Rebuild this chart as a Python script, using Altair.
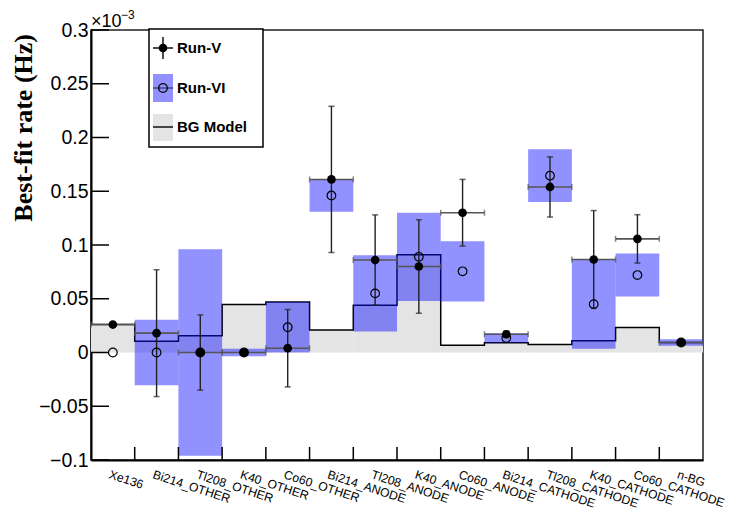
import altair as alt
import pandas as pd

categories = ["Xe136", "Bi214_OTHER", "Tl208_OTHER", "K40_OTHER", "Co60_OTHER",
              "Bi214_ANODE", "Tl208_ANODE", "K40_ANODE", "Co60_ANODE",
              "Bi214_CATHODE", "Tl208_CATHODE", "K40_CATHODE", "Co60_CATHODE", "n-BG"]
bg_model = [0.026, 0.0105, 0.0155, 0.0446, 0.047, 0.021, 0.044, 0.091,
            0.0068, 0.009, 0.0074, 0.011, 0.0233, 0.0093]
run5 = [0.026, 0.018, 0.0, 0.0, 0.004, 0.161, 0.086, 0.080,
        0.130, 0.017, 0.154, 0.0865, 0.1057, 0.0093]
run5_err = [0.0, 0.059, 0.035, 0.0, 0.036, 0.068, 0.042, 0.0435,
            0.031, 0.003, 0.028, 0.0455, 0.0225, 0.0]
run6 = [0.0, 0.0, 0.0, 0.0, 0.0235, 0.146, 0.055, 0.089,
        0.0755, 0.0135, 0.1645, 0.045, 0.072, 0.0093]
run6_err = [0.0, 0.0305, 0.096, 0.0035, 0.0235, 0.015, 0.0355, 0.041,
            0.028, 0.0045, 0.0245, 0.0415, 0.020, 0.003]
y_ticks = [-0.1, -0.05, 0, 0.05, 0.1, 0.15, 0.2, 0.25, 0.3]

n = len(categories)
df = pd.DataFrame({
    "cat": categories,
    "lo": [i for i in range(n)],
    "hi": [i + 1 for i in range(n)],
    "mid": [i + 0.5 for i in range(n)],
    "zero": [0.0] * n,
    "bg": bg_model,
    "r5": run5, "r5e": run5_err,
    "r6": run6, "r6e": run6_err,
})
df["r5lo"] = df["r5"] - df["r5e"]
df["r5hi"] = df["r5"] + df["r5e"]
df["r6lo"] = df["r6"] - df["r6e"]
df["r6hi"] = df["r6"] + df["r6e"]

step_df = pd.DataFrame({"x": list(range(n + 1)), "y": bg_model + [bg_model[-1]]})
edges_df = pd.DataFrame({"e": list(range(1, n))})
yt_df = pd.DataFrame({"v": y_ticks})

HATCH = "#0a0aff"
HATCH_OP = 0.45

xs = alt.Scale(domain=[0, n], nice=False, zero=False)
ys = alt.Scale(domain=[-0.1, 0.3], nice=False, zero=False)

label_arr = "[" + ",".join("'" + c + "'" for c in categories) + "]"
x_axis = alt.Axis(values=[i + 0.5 for i in range(n)], labelExpr=label_arr + "[floor(datum.value)]",
                  labelAngle=18, labelAlign="left", labelBaseline="top", labelPadding=8,
                  labelOffset=-2,
                  labelFont="Liberation Sans", labelFontSize=12.2, labelColor="black",
                  ticks=False, grid=False, domainColor="black", domainWidth=2, title=None,
                  labelOverlap=False, labelBound=False)
y_axis = alt.Axis(values=y_ticks, format="~g", labelFont="Liberation Sans", labelFontSize=19.5,
                  labelColor="black", labelPadding=3, ticks=False, grid=False,
                  domainColor="black", domainWidth=2, title=None, labelOverlap=False, labelBound=False)

base = alt.Chart(df)

grey = base.mark_rect(fill="#e4e4e4", stroke=None).encode(
    x=alt.X("lo:Q", scale=xs, axis=x_axis), x2="hi:Q",
    y=alt.Y("zero:Q", scale=ys, axis=y_axis), y2="bg:Q")

bgline = alt.Chart(step_df).mark_line(interpolate="step-after", color="black", strokeWidth=1.5).encode(
    x=alt.X("x:Q", scale=xs), y=alt.Y("y:Q", scale=ys))

boxes = base.transform_filter("datum.r6e > 0").mark_rect(fill=HATCH, fillOpacity=HATCH_OP).encode(
    x=alt.X("lo:Q", scale=xs), x2="hi:Q", y=alt.Y("r6lo:Q", scale=ys), y2="r6hi:Q")

xbar = base.mark_rule(color="#555555", strokeWidth=1.6).encode(
    x=alt.X("lo:Q", scale=xs), x2="hi:Q", y=alt.Y("r5:Q", scale=ys))
xcap_l = base.mark_tick(orient="vertical", color="#555555", size=6, thickness=1.5).encode(
    x=alt.X("lo:Q", scale=xs), y=alt.Y("r5:Q", scale=ys))
xcap_r = base.mark_tick(orient="vertical", color="#555555", size=6, thickness=1.5).encode(
    x=alt.X("hi:Q", scale=xs), y=alt.Y("r5:Q", scale=ys))

yerr = base.transform_filter("datum.r5e > 0").mark_rule(color="#222222", strokeWidth=1.4).encode(
    x=alt.X("mid:Q", scale=xs), y=alt.Y("r5lo:Q", scale=ys), y2="r5hi:Q")
ycap_lo = base.transform_filter("datum.r5e > 0").mark_tick(orient="horizontal", color="#222222", size=6, thickness=1.5).encode(
    x=alt.X("mid:Q", scale=xs), y=alt.Y("r5lo:Q", scale=ys))
ycap_hi = base.transform_filter("datum.r5e > 0").mark_tick(orient="horizontal", color="#222222", size=6, thickness=1.5).encode(
    x=alt.X("mid:Q", scale=xs), y=alt.Y("r5hi:Q", scale=ys))

open_pts = base.mark_point(shape="circle", filled=False, color="black", size=75, strokeWidth=1.2, opacity=1).encode(
    x=alt.X("mid:Q", scale=xs), y=alt.Y("r6:Q", scale=ys))
full_pts = base.mark_point(shape="circle", filled=True, color="black", size=75, opacity=1).encode(
    x=alt.X("mid:Q", scale=xs), y=alt.Y("r5:Q", scale=ys))

xticks = alt.Chart(edges_df).mark_rule(color="black", strokeWidth=1.5).encode(
    x=alt.X("e:Q", scale=xs), y=alt.value(430), y2=alt.value(417))
yticks = alt.Chart(yt_df).mark_rule(color="black", strokeWidth=1.5).encode(
    y=alt.Y("v:Q", scale=ys), x=alt.value(0), x2=alt.value(18))

ytitle = alt.Chart(pd.DataFrame({"t": ["Best-fit rate (Hz)"]})).mark_text(
    angle=270, align="right", baseline="middle", font="Liberation Serif", fontWeight="bold",
    fontSize=26, color="black").encode(x=alt.value(-67), y=alt.value(4), text="t:N")
exp1 = alt.Chart(pd.DataFrame({"t": ["×10"]})).mark_text(
    align="left", baseline="alphabetic", font="Liberation Sans", fontSize=18, color="black").encode(
    x=alt.value(0), y=alt.value(-3), text="t:N")
exp2 = alt.Chart(pd.DataFrame({"t": ["−3"]})).mark_text(
    align="left", baseline="alphabetic", font="Liberation Sans", fontSize=12, color="black").encode(
    x=alt.value(30), y=alt.value(-11), text="t:N")

# legend
one = pd.DataFrame({"a": [0]})
leg_box = alt.Chart(one).mark_rect(fill="white", stroke="black", strokeWidth=1.5).encode(
    x=alt.value(58), x2=alt.value(172), y=alt.value(-1), y2=alt.value(117))
leg_v_h = alt.Chart(one).mark_rule(color="black", strokeWidth=1.4).encode(
    x=alt.value(62), x2=alt.value(82), y=alt.value(18))
leg_v_v = alt.Chart(one).mark_rule(color="black", strokeWidth=1.4).encode(
    x=alt.value(72), y=alt.value(7), y2=alt.value(29))
leg_v_pt = alt.Chart(one).mark_point(shape="circle", filled=True, color="black", size=75, opacity=1).encode(
    x=alt.value(72), y=alt.value(18))
leg_6_box = alt.Chart(one).mark_rect(fill=HATCH, fillOpacity=HATCH_OP).encode(
    x=alt.value(62), x2=alt.value(82), y=alt.value(44), y2=alt.value(72))
leg_6_h = alt.Chart(one).mark_rule(color="#333366", strokeWidth=1.2).encode(
    x=alt.value(62), x2=alt.value(82), y=alt.value(58))
leg_6_pt = alt.Chart(one).mark_point(shape="circle", filled=False, color="black", size=75, strokeWidth=1.2, opacity=1).encode(
    x=alt.value(72), y=alt.value(58))
leg_bg_box = alt.Chart(one).mark_rect(fill="#e4e4e4").encode(
    x=alt.value(62), x2=alt.value(82), y=alt.value(84), y2=alt.value(111))
leg_bg_h = alt.Chart(one).mark_rule(color="black", strokeWidth=1.4).encode(
    x=alt.value(62), x2=alt.value(82), y=alt.value(97))
leg_text = alt.Chart(pd.DataFrame({"t": ["Run-V", "Run-VI", "BG Model"], "py": [18, 58, 97]})).mark_text(
    align="left", baseline="middle", font="Liberation Sans", fontWeight="bold", fontSize=15, color="black").encode(
    x=alt.value(86), y=alt.Y("py:Q", scale=None), text="t:N")

chart = alt.layer(
    grey, bgline, boxes, xbar, xcap_l, xcap_r, yerr, ycap_lo, ycap_hi, open_pts, full_pts,
    xticks, yticks, ytitle, exp1, exp2,
    leg_box, leg_v_h, leg_v_v, leg_v_pt, leg_6_box, leg_6_h, leg_6_pt, leg_bg_box, leg_bg_h, leg_text
).properties(
    width=612, height=430,
    autosize=alt.AutoSizeParams(type="none"),
    padding={"left": 83, "top": 22, "right": 23, "bottom": 56},
    background="white",
).configure_view(stroke="#222222", strokeWidth=1.5)

chart.save("out.html", embed_options={"renderer": "svg", "actions": False})
